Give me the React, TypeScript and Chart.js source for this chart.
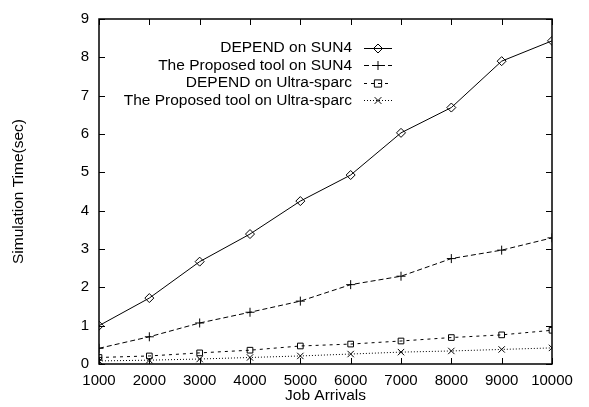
import React, { useEffect, useRef } from "react";
import { Chart, registerables } from "chart.js";

Chart.register(...registerables);

const jobArrivals = [1000, 2000, 3000, 4000, 5000, 6000, 7000, 8000, 9000, 10000];
const dependSun4 = [1.0, 1.72, 2.67, 3.39, 4.25, 4.93, 6.03, 6.69, 7.9, 8.43];
const toolSun4 = [0.41, 0.71, 1.07, 1.35, 1.64, 2.07, 2.29, 2.75, 2.97, 3.29];
const dependUltra = [0.17, 0.21, 0.29, 0.36, 0.47, 0.52, 0.6, 0.69, 0.76, 0.88];
const toolUltra = [0.08, 0.1, 0.13, 0.17, 0.21, 0.26, 0.31, 0.34, 0.38, 0.42];
const seriesLabels = [
  "DEPEND on SUN4",
  "The Proposed tool on SUN4",
  "DEPEND on Ultra-sparc",
  "The Proposed tool on Ultra-sparc",
];
const xTitle = "Job Arrivals";
const yTitle = "Simulation Time(sec)";

const FONT = "Liberation Sans, Arial, Helvetica, sans-serif";
const dashes = [[], [5, 3], [3, 4], [1, 2]];
const styles = ["rectRot", "cross", "rect", "crossRot"];

function drawMarker(ctx: CanvasRenderingContext2D, style: string, x: number, y: number, r: number) {
  ctx.beginPath();
  if (style === "rectRot") {
    ctx.moveTo(x, y - r);
    ctx.lineTo(x + r, y);
    ctx.lineTo(x, y + r);
    ctx.lineTo(x - r, y);
    ctx.closePath();
  } else if (style === "cross") {
    ctx.moveTo(x - r, y);
    ctx.lineTo(x + r, y);
    ctx.moveTo(x, y - r);
    ctx.lineTo(x, y + r);
  } else if (style === "rect") {
    const s = r * 0.8;
    ctx.rect(x - s, y - s, 2 * s, 2 * s);
  } else {
    const s = r * 0.75;
    ctx.moveTo(x - s, y - s);
    ctx.lineTo(x + s, y + s);
    ctx.moveTo(x + s, y - s);
    ctx.lineTo(x - s, y + s);
  }
  ctx.stroke();
}

const framePlugin = {
  id: "gnuFrame",
  afterDraw(chart: any) {
    const { ctx, chartArea } = chart;
    const { left, right, top, bottom } = chartArea;
    const xs = chart.scales.x;
    const ys = chart.scales.y;
    ctx.save();
    ctx.strokeStyle = "#000";
    ctx.lineWidth = 1;
    ctx.setLineDash([]);
    const tl = 6;
    ctx.beginPath();
    for (const t of xs.ticks) {
      const px = Math.round(xs.getPixelForValue(t.value)) + 0.5;
      ctx.moveTo(px, bottom);
      ctx.lineTo(px, bottom - tl);
      ctx.moveTo(px, top);
      ctx.lineTo(px, top + tl);
    }
    for (const t of ys.ticks) {
      const py = Math.round(ys.getPixelForValue(t.value)) + 0.5;
      ctx.moveTo(left, py);
      ctx.lineTo(left + tl, py);
      ctx.moveTo(right, py);
      ctx.lineTo(right - tl, py);
    }
    ctx.stroke();
    ctx.lineWidth = 1.5;
    ctx.strokeRect(left, top, right - left, bottom - top);

    // legend
    const textRight = 352;
    const lineL = 364;
    const lineR = 392;
    const rows = [47.5, 65, 82.5, 100];
    ctx.font = `15.5px ${FONT}`;
    ctx.fillStyle = "#000";
    ctx.textAlign = "right";
    ctx.textBaseline = "middle";
    chart.data.datasets.forEach((ds: any, i: number) => {
      const y = rows[i];
      ctx.fillText(ds.label, textRight, y + 0.5);
      ctx.lineWidth = 1;
      ctx.setLineDash(dashes[i]);
      ctx.beginPath();
      ctx.moveTo(lineL, Math.round(y) + 0.5);
      ctx.lineTo(lineR, Math.round(y) + 0.5);
      ctx.stroke();
      ctx.setLineDash([]);
      drawMarker(ctx, styles[i], (lineL + lineR) / 2, Math.round(y) + 0.5, 4.5);
    });
    ctx.restore();
  },
};

export default function App() {
  const ref = useRef<HTMLCanvasElement | null>(null);
  useEffect(() => {
    if (!ref.current) return;
    const mk = (i: number, data: number[]) => ({
      label: seriesLabels[i],
      data: jobArrivals.map((x, k) => ({ x, y: data[k] })),
      borderColor: "#000",
      backgroundColor: "rgba(0,0,0,0)",
      borderWidth: 1,
      borderDash: dashes[i],
      pointStyle: styles[i],
      pointRadius: i === 2 ? 4 : 4.5,
      pointBorderWidth: 1,
      pointBorderColor: "#000",
      pointBackgroundColor: "rgba(0,0,0,0)",
      tension: 0,
      fill: false,
    });
    const chart = new Chart(ref.current, {
      type: "line",
      data: {
        datasets: [
          mk(0, dependSun4),
          mk(1, toolSun4),
          mk(2, dependUltra),
          mk(3, toolUltra),
        ],
      },
      options: {
        animation: false,
        responsive: false,
        maintainAspectRatio: false,
        layout: { padding: { left: 0, right: 37, top: 10, bottom: 0 } },
        plugins: { legend: { display: false }, tooltip: { enabled: false } },
        scales: {
          x: {
            type: "linear",
            min: 1000,
            max: 10000,
            afterFit: (s: any) => {
              s.height = 43;
            },
            ticks: {
              stepSize: 1000,
              autoSkip: false,
              maxRotation: 0,
              padding: 8,
              color: "#000",
              font: { family: FONT, size: 15 },
              callback: (v: any) => String(v),
            },
            grid: { display: false, drawTicks: false },
            border: { display: false },
            title: {
              display: true,
              text: xTitle,
              color: "#000",
              font: { family: FONT, size: 15.5 },
              padding: { top: 0, bottom: 2 },
            },
          },
          y: {
            type: "linear",
            min: 0,
            max: 9,
            afterFit: (s: any) => {
              s.width = 99;
            },
            ticks: {
              stepSize: 1,
              padding: 10,
              color: "#000",
              font: { family: FONT, size: 15 },
            },
            grid: { display: false, drawTicks: false },
            border: { display: false },
            title: {
              display: true,
              text: yTitle,
              color: "#000",
              font: { family: FONT, size: 15.5 },
              padding: { top: 9, bottom: 0 },
            },
          },
        },
      },
      plugins: [framePlugin],
    });
    return () => chart.destroy();
  }, []);
  return (
    <div style={{ position: "fixed", left: 0, top: 0, width: 589, height: 407, background: "#fff" }}>
      <canvas ref={ref} width={589} height={407} style={{ width: 589, height: 407, display: "block" }} />
    </div>
  );
}
